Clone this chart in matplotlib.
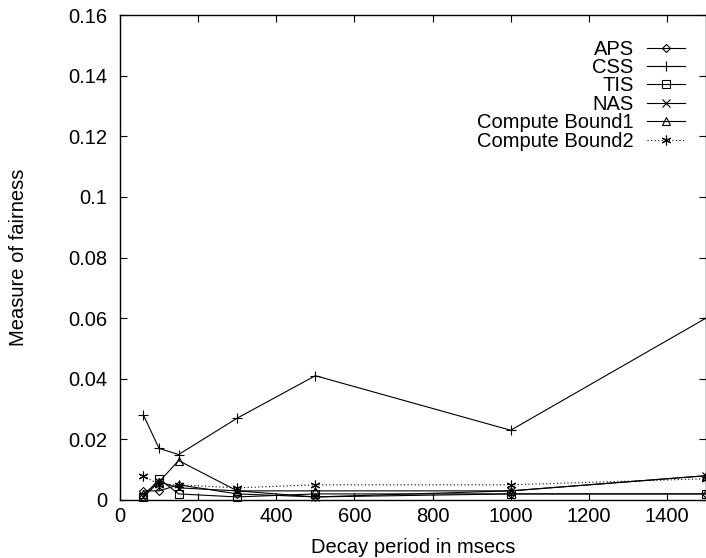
import matplotlib
matplotlib.use("Agg")
import matplotlib.pyplot as plt

plt.rcParams['font.family'] = ['Liberation Sans', 'DejaVu Sans']

# decay period (msecs)
decay = [60, 100, 150, 300, 500, 1000, 1500]

aps = [0.003, 0.003, 0.005, 0.002, 0.001, 0.002, 0.002]
css = [0.028, 0.017, 0.015, 0.027, 0.041, 0.023, 0.060]
tis = [0.001, 0.007, 0.002, 0.001, 0.002, 0.002, 0.002]
nas = [0.001, 0.006, 0.004, 0.003, 0.001, 0.003, 0.008]
bound1 = [0.002, 0.006, 0.013, 0.003, 0.003, 0.003, 0.008]
bound2 = [0.008, 0.005, 0.005, 0.004, 0.005, 0.005, 0.007]

series_names = ["APS", "CSS", "TIS", "NAS", "Compute Bound1", "Compute Bound2"]
x_ticks = [0, 200, 400, 600, 800, 1000, 1200, 1400]
y_ticks = [0, 0.02, 0.04, 0.06, 0.08, 0.1, 0.12, 0.14, 0.16]
y_tick_labels = ["0", "0.02", "0.04", "0.06", "0.08", "0.1", "0.12", "0.14", "0.16"]

FS = 14.5

fig = plt.figure(figsize=(7.06, 5.58), dpi=100)
ax = fig.add_axes([0.170, 0.104, 0.830, 0.869])

styles = [
    (aps, "D", "-", 4.5),
    (css, "+", "-", 7),
    (tis, "s", "-", 5.5),
    (nas, "x", "-", 5.5),
    (bound1, "^", "-", 5.5),
    (bound2, (6, 2, 0), (0, (1, 2.2)), 7),
]
for (vals, mk, ls, ms), name in zip(styles, series_names):
    ax.plot(decay, vals, color="black", linestyle=ls, linewidth=0.8,
            marker=mk, markersize=ms, markerfacecolor="none",
            markeredgecolor="black", markeredgewidth=0.8, label=name,
            clip_on=False)

ax.set_xlim(0, 1500)
ax.set_ylim(0, 0.16)
ax.set_xticks(x_ticks)
ax.set_yticks(y_ticks)
ax.set_yticklabels(y_tick_labels)
ax.tick_params(direction="in", length=5, width=0.8, top=True, right=True,
               labelsize=FS)
ax.tick_params(axis="y", pad=9)
ax.tick_params(axis="x", pad=5)
for sp in ax.spines.values():
    sp.set_linewidth(1.0)

ax.set_xlabel("Decay period in msecs", fontsize=FS, labelpad=9)
ax.set_ylabel("Measure of fairness", fontsize=FS, labelpad=29)

leg = ax.legend(loc="upper right", markerfirst=False, frameon=False,
                fontsize=FS, handlelength=1.9, handletextpad=0.65,
                labelspacing=-0.03, borderaxespad=0.0,
                bbox_to_anchor=(0.978, 0.966))

fig.savefig("out.png", dpi=100)
